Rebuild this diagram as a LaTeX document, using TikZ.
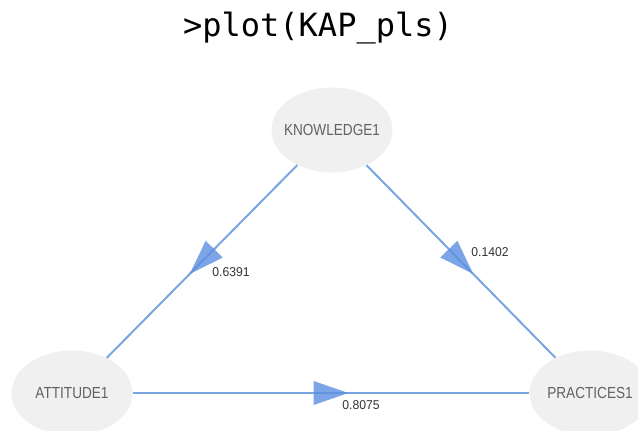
\documentclass[tikz,border=0pt]{standalone}
\usepackage{fontspec}
\setmainfont{Liberation Sans}
\newfontfamily\titlefont{DejaVu Sans Mono}
\newfontfamily\nodefont[FakeStretch=0.85]{Liberation Sans}
\newfontfamily\edgefont[FakeStretch=0.95]{Liberation Sans}
\usetikzlibrary{shapes.geometric,decorations.markings}
\definecolor{linecol}{HTML}{7AA5E3}
\definecolor{headcol}{HTML}{5B8FE0}
\definecolor{ellcol}{HTML}{F0F0F0}
\definecolor{nodetxt}{HTML}{626262}
\definecolor{edgetxt}{HTML}{333333}
\tikzset{
  latent/.style={ellipse, fill=ellcol, draw=none, minimum width=121*0.75pt, minimum height=85*0.75pt, inner sep=0pt,
    text=nodetxt, font=\nodefont\fontsize{12}{14}\selectfont},
  pathline/.style={draw=linecol, line width=1.5pt,
    postaction={decorate},
    decoration={markings, mark=at position 0.5 with {\fill[headcol, fill opacity=0.8] (13pt,0) -- (-13pt,9pt) -- (-13pt,-9pt) -- cycle;}}},
  coef/.style={text=edgetxt, font=\edgefont\fontsize{9.6}{11}\selectfont, inner sep=0pt}
}
\begin{document}
\begin{tikzpicture}[x=0.75pt,y=-0.75pt]
\useasboundingbox (0,0) rectangle (638,431);
\clip (0,0) rectangle (638,431);
\fill[white] (0,0) rectangle (638,431);
\node[font=\titlefont\fontsize{24}{26}\selectfont, inner sep=0pt] (title) at (318,28) {>plot(KAP\_pls)};
\node[latent] (K) at (332,130) {\makebox[0pt]{KNOWLEDGE1}};
\node[latent] (A) at (72,393) {\makebox[0pt]{ATTITUDE1}};
\node[latent] (P) at (590,393) {\makebox[0pt]{PRACTICES1}};
\draw[pathline] (K) -- (A);
\draw[pathline] (K) -- (P);
\draw[pathline] (A) -- (P);
\node[coef] (c1) at (231,272) {0.6391};
\node[coef] (c2) at (490,252) {0.1402};
\node[coef] (c3) at (361,405) {0.8075};
\end{tikzpicture}
\end{document}
